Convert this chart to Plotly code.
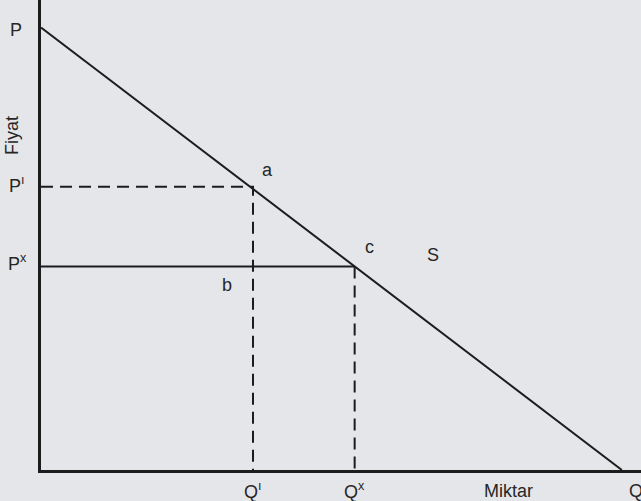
import plotly.graph_objects as go

# demand line end points (price axis intercept, quantity axis intercept)
demand_q = [0, 10]
demand_p = [10, 0]

# marked points on the line
point_a = (3.65, 6.4)   # Q', P'
point_c = (5.4, 4.6)    # Qx, Px

INK = '#1c1c1c'
BG = '#e5e6e9'

fig = go.Figure()

fig.add_trace(go.Scatter(x=demand_q, y=demand_p, mode='lines',
                         line=dict(color=INK, width=2), hoverinfo='skip'))

# P' -> a dashed horizontal, a -> Q' dashed vertical
fig.add_trace(go.Scatter(x=[0, point_a[0], point_a[0]], y=[point_a[1], point_a[1], 0],
                         mode='lines', line=dict(color=INK, width=2, dash='12px,7px'),
                         hoverinfo='skip'))
# Px -> c solid horizontal
fig.add_trace(go.Scatter(x=[0, point_c[0]], y=[point_c[1], point_c[1]],
                         mode='lines', line=dict(color=INK, width=2), hoverinfo='skip'))
# c -> Qx dashed vertical
fig.add_trace(go.Scatter(x=[point_c[0], point_c[0]], y=[point_c[1], 0],
                         mode='lines', line=dict(color=INK, width=2, dash='12px,7px'),
                         hoverinfo='skip'))

font = dict(family='Liberation Sans, Arial, sans-serif', size=18, color='#262626')

def label(text, x, y, xref='x', yref='y', **kw):
    fig.add_annotation(text=text, x=x, y=y, xref=xref, yref=yref, showarrow=False,
                       xanchor='center', yanchor='middle', font=font, **kw)

# point labels
label('a', 3.9, 6.78)
label('b', 3.2, 4.18)
label('c', 5.65, 5.05)
label('S', 6.75, 4.85)

# price axis labels (left of the axis)
label('P', -0.042, 9.95, xref='paper')
label('P<sup>ı</sup>', -0.04, 6.45, xref='paper')
label('P<sup>x</sup>', -0.04, 4.7, xref='paper')
label('Fiyat', -0.048, 7.55, xref='paper', textangle=-90)

# quantity axis labels (below the axis)
label('Q<sup>ı</sup>', point_a[0], -0.044, yref='paper')
label('Q<sup>x</sup>', point_c[0], -0.044, yref='paper')
label('Miktar', 8.05, -0.044, yref='paper')
label('Q', 10.25, -0.044, yref='paper')

fig.update_layout(
    width=641, height=501,
    margin=dict(l=41, r=0, t=0, b=31),
    paper_bgcolor=BG, plot_bgcolor=BG,
    showlegend=False,
    xaxis=dict(range=[0, 10.33], showgrid=False, zeroline=False, showticklabels=False,
               ticks='', showline=True, linecolor=INK, linewidth=2.5, fixedrange=True),
    yaxis=dict(range=[0, 10.62], showgrid=False, zeroline=False, showticklabels=False,
               ticks='', showline=True, linecolor=INK, linewidth=2.5, fixedrange=True),
)

fig.write_html("out.html", config={'displayModeBar': False},
               post_script="document.body.style.margin='0';")
